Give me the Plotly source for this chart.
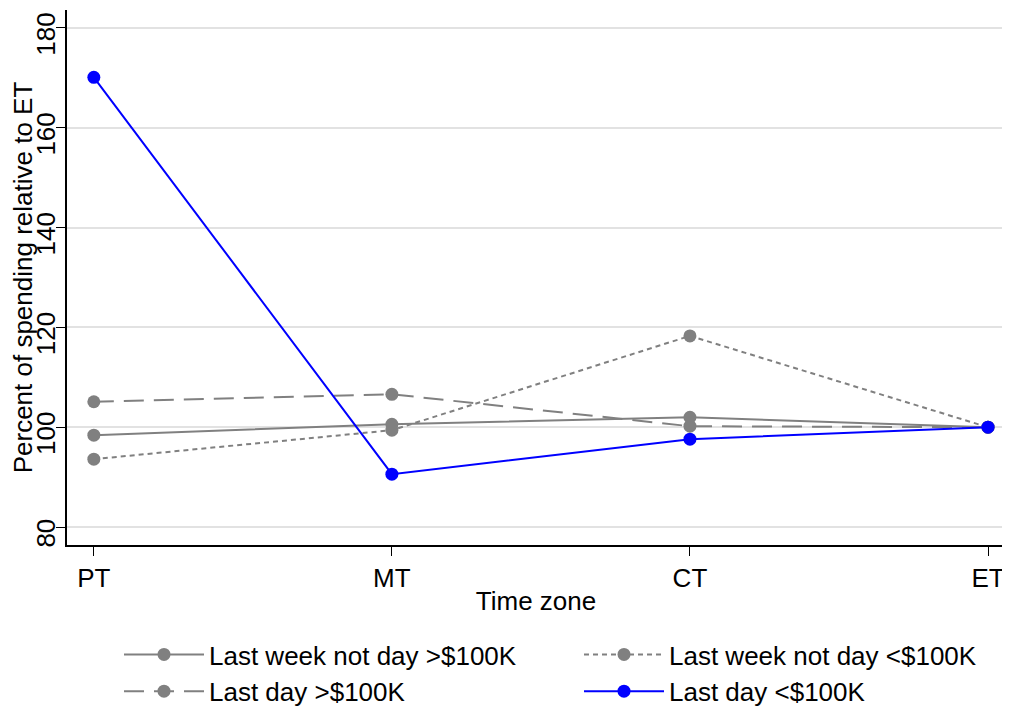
import plotly.graph_objects as go

zones = ["PT", "MT", "CT", "ET"]
week_gt = [98.4, 100.6, 102.0, 100.0]
week_lt = [93.6, 99.4, 118.3, 100.0]
day_gt = [105.1, 106.6, 100.2, 100.0]
day_lt = [170.1, 90.6, 97.6, 100.0]

GRAY = "#808080"
BLUE = "#0000ff"
FS = 26
W, H = 1002, 703  # page body has an 8px margin

fig = go.Figure()
series = [
    ("Last week not day >$100K", week_gt, GRAY, "solid"),
    ("Last week not day <$100K", week_lt, GRAY, "5px,4px"),
    ("Last day >$100K", day_gt, GRAY, "20px,10px"),
    ("Last day <$100K", day_lt, BLUE, "solid"),
]
for name, ys, col, dash in series:
    fig.add_trace(go.Scatter(
        x=list(range(len(zones))), y=ys, name=name, mode="lines+markers",
        line=dict(color=col, width=2, dash=dash),
        marker=dict(color=col, size=13),
    ))

fig.update_layout(
    width=W, height=H,
    margin=dict(l=59, r=5, t=2, b=166, autoexpand=False),
    plot_bgcolor="white", paper_bgcolor="white",
    font=dict(family="Liberation Sans, Arial, sans-serif", size=FS, color="black"),
    showlegend=True,
    legend=dict(orientation="h", xref="container", yref="container",
                x=111 / W, y=1 - 623 / H, xanchor="left", yanchor="top",
                entrywidth=365, entrywidthmode="pixels",
                font=dict(size=FS), itemwidth=80, tracegroupgap=0),
    xaxis=dict(
        range=[-0.09, 3.057], tickmode="array", tickvals=list(range(4)), ticktext=zones,
        showgrid=False, zeroline=False, showline=True, linecolor="black", linewidth=1.5,
        ticks="outside", ticklen=9, tickcolor="black", tickfont=dict(size=FS),
        title=dict(text="Time zone", standoff=0, font=dict(size=FS)),
    ),
    yaxis=dict(
        range=[76.4, 183.6], tickvals=[80, 100, 120, 140, 160, 180],
        showgrid=True, gridcolor="#e2e2e2", gridwidth=1.5, zeroline=False,
        showline=True, linecolor="black", linewidth=1.5,
        ticks="outside", ticklen=9, tickcolor="black", tickangle=-90, tickfont=dict(size=FS),
        ticklabelstandoff=-9, ticklabelshift=10,
        title=dict(text="Percent of spending relative to ET", standoff=14, font=dict(size=FS)),
    ),
)
fig.write_html("out.html")
